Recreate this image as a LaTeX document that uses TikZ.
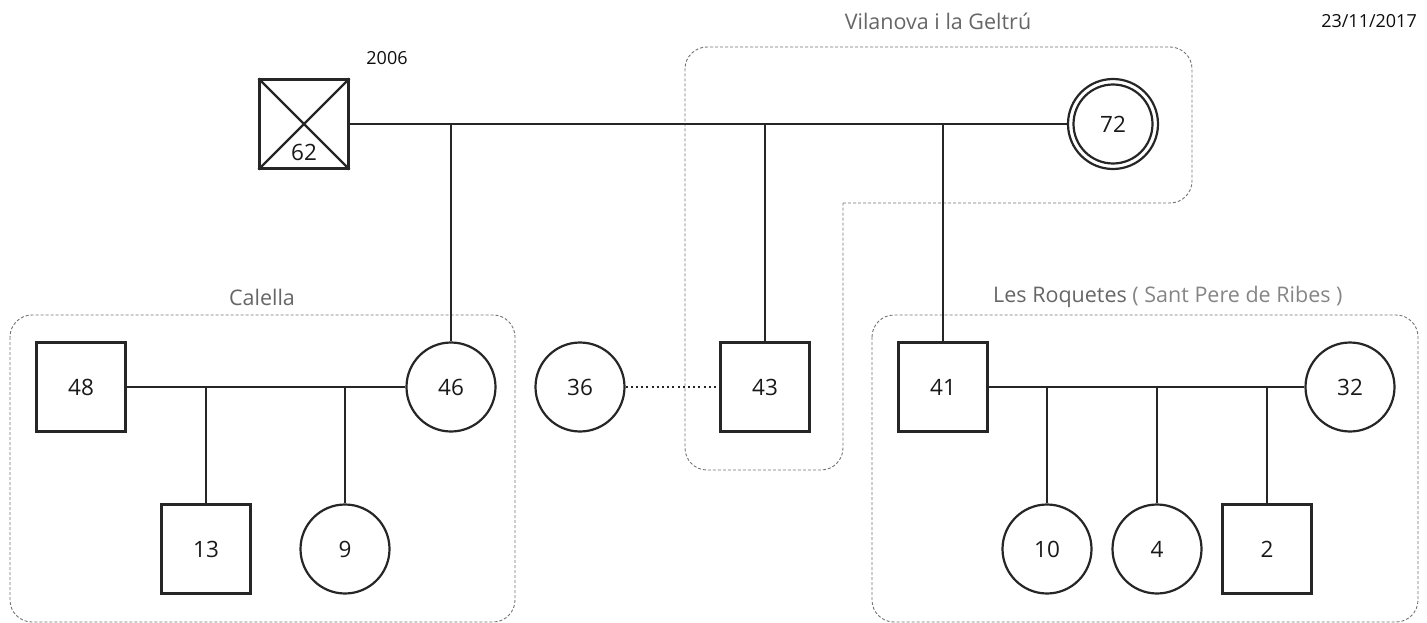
\documentclass[tikz,border=0pt]{standalone}
\usepackage{fontspec}
\setmainfont{Open Sans}
\begin{document}
\begin{tikzpicture}[x=1pt,y=-1pt,
  person/.style={draw=black!85,line width=2.2pt,minimum size=89pt,inner sep=0pt,font=\fontsize{22.5}{26}\selectfont,text=black!90},
  sq/.style={person,rectangle},
  ci/.style={person,circle},
  rel/.style={draw=black!85,line width=2.2pt},
  grp/.style={draw=black!55,line width=0.9pt,dash pattern=on 3pt off 2pt},
  grplabel/.style={font=\fontsize{21.5}{26}\selectfont,text=black!60},
  small/.style={font=\fontsize{18}{22}\selectfont,text=black!95}]
\useasboundingbox (0,0) rectangle (1427,623);
% group boxes
\draw[grp,rounded corners=22] (10,315) rectangle (515,622);
\draw[grp,rounded corners=22] (872,315) rectangle (1418,622);
\draw[grp,rounded corners=22] (843,203) -- (1192,203) -- (1192,47) -- (685,47) -- (685,470) -- (843,470) -- (843,203);
\node[grplabel] (lcal) at (262,297) {Calella};
\node[grplabel] (lvil) at (938,21) {Vilanova i la Geltrú};
\node[grplabel,anchor=west,inner sep=0pt] (lroq) at (993,297) {Les Roquetes~\textcolor{black!48}{( Sant Pere de Ribes )}};
\node[small,anchor=east,inner sep=0pt] (date) at (1417,21) {23/11/2017};
\node[small] (year) at (387,58) {2006};
% generation 1
\node[sq] (d62) at (304,124) {};
\draw[rel] (d62.north west) -- (d62.south east);
\draw[rel] (d62.north east) -- (d62.south west);
\node[font=\fontsize{22.5}{26}\selectfont,text=black!90] (t62) at (304,152) {62};
\node[ci,minimum size=90pt] (m72) at (1113,124) {72};
\draw[rel] (m72.center) circle (39.5pt);
% generation 2
\node[sq] (s48) at (81,387) {48};
\node[ci] (c46) at (451,387) {46};
\node[ci] (c36) at (580,387) {36};
\node[sq] (s43) at (765,387) {43};
\node[sq] (s41) at (943,387) {41};
\node[ci] (c32) at (1350,387) {32};
% generation 3
\node[sq] (s13) at (206,549) {13};
\node[ci] (c9) at (345,549) {9};
\node[ci] (c10) at (1047,549) {10};
\node[ci] (c4) at (1157,549) {4};
\node[sq] (s2) at (1267,549) {2};
% connectors
\draw[rel] (d62.east) -- (m72.west);
\draw[rel] (c46 |- d62) -- (c46.north);
\draw[rel] (s43 |- d62) -- (s43.north);
\draw[rel] (s41 |- d62) -- (s41.north);
\draw[rel] (s48.east) -- (c46.west);
\draw[rel] (s13 |- s48) -- (s13.north);
\draw[rel] (c9 |- s48) -- (c9.north);
\draw[black!85,line width=2.2pt,dash pattern=on 2pt off 3.2pt] (c36.east) -- (s43.west);
\draw[rel] (s41.east) -- (c32.west);
\draw[rel] (c10 |- s41) -- (c10.north);
\draw[rel] (c4 |- s41) -- (c4.north);
\draw[rel] (s2 |- s41) -- (s2.north);
\end{tikzpicture}
\end{document}
